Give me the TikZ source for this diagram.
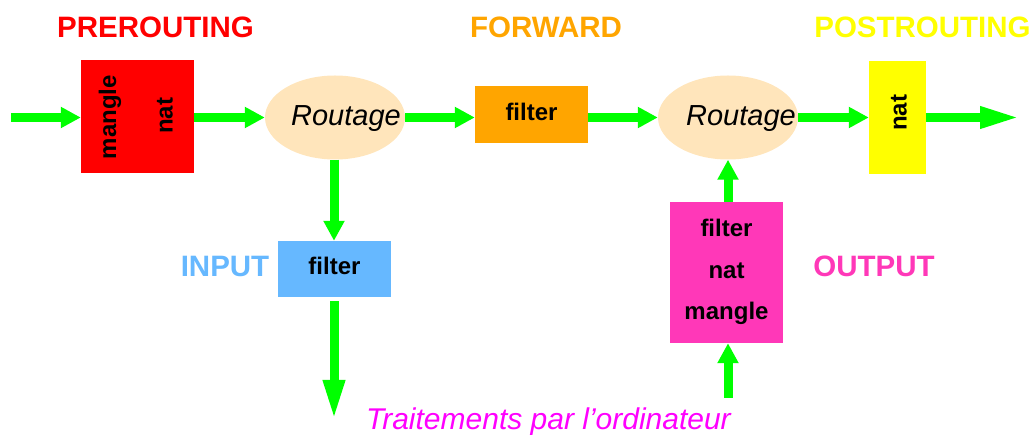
\documentclass[tikz,border=0pt]{standalone}
\usepackage{fontspec}
\setmainfont{Liberation Sans}
\usetikzlibrary{arrows.meta,shapes.geometric}
\definecolor{gr}{RGB}{0,255,0}
\definecolor{moc}{RGB}{255,229,187}
\definecolor{orng}{RGB}{255,165,0}
\definecolor{yel}{RGB}{255,255,0}
\definecolor{lblue}{RGB}{102,184,255}
\definecolor{hpink}{RGB}{255,56,184}
\definecolor{magen}{RGB}{255,0,255}
\tikzset{
  flow/.style={draw=gr, line width=9pt, -{Triangle[length=20pt,width=20pt]}},
  longflow/.style={draw=gr, line width=9pt, -{Triangle[length=40pt,width=20pt]}},
  box/.style={rectangle, inner sep=0pt, draw=none},
  route/.style={ellipse, fill=moc, draw=none, minimum width=140pt, minimum height=84pt, inner sep=0pt},
  boxtxt/.style={inner sep=0pt, font=\fontsize{24}{26}\selectfont\bfseries, text=black},
  title/.style={inner sep=0pt, anchor=base, font=\fontsize{29.5}{31}\selectfont\bfseries},
  rtxt/.style={inner sep=0pt, anchor=base, font=\fontsize{29}{31}\selectfont\itshape, text=black}
}
\begin{document}
\begin{tikzpicture}[x=1pt,y=-1pt]
\useasboundingbox (0,0) rectangle (1034,435);
% titles
\node[title, text=red] (tpre) at (155.5,38) {PREROUTING};
\node[title, text=orng] (tfwd) at (546,38) {FORWARD};
\node[title, text=yel] (tpost) at (922.5,38) {POSTROUTING};
\node[title, text=lblue] (tin) at (225,277) {INPUT};
\node[title, text=hpink] (tout) at (874,277) {OUTPUT};
\node[inner sep=0pt, anchor=base, font=\fontsize{30}{32}\selectfont\itshape, text=magen] (trait) at (548.5,430) {Traitements par l’ordinateur};
% boxes
\node[box, fill=red, minimum width=113pt, minimum height=113pt] (pre) at (137.5,116.5) {};
\node[boxtxt, rotate=90] (pm) at (110,117) {mangle};
\node[boxtxt, rotate=90] (pn) at (165,116) {nat};
\node[route] (r1) at (335,117.5) {};
\node[rtxt] (r1t) at (346,126) {Routage};
\node[box, fill=orng, minimum width=113pt, minimum height=57pt] (fwd) at (531.5,114.5) {};
\node[boxtxt, anchor=base] (fwdt) at (531.5,121) {filter};
\node[route] (r2) at (728,117.5) {};
\node[rtxt] (r2t) at (741,126) {Routage};
\node[box, fill=yel, minimum width=57pt, minimum height=113pt] (post) at (897.5,117.5) {};
\node[boxtxt, rotate=90] (postn) at (899,113) {nat};
\node[box, fill=lblue, minimum width=113pt, minimum height=56pt] (inb) at (334.5,269) {};
\node[boxtxt, anchor=base] (inbt) at (334.5,275) {filter};
\node[box, fill=hpink, minimum width=113pt, minimum height=141pt] (outb) at (726.5,272.5) {};
\node[boxtxt, anchor=base] (o1) at (726.5,237) {filter};
\node[boxtxt, anchor=base] (o2) at (726.5,279) {nat};
\node[boxtxt, anchor=base] (o3) at (726.5,320) {mangle};
% free ends
\coordinate (start) at (11,117.5);
\coordinate (finish) at (1020,117.5);
\coordinate (down) at (334,420);
\coordinate (up) at (728,398);
% connectors
\draw[flow] (start) -- (pre.west |- start);
\draw[flow] (pre.east |- start) -- (r1.west);
\draw[flow] (r1.east) -- (fwd.west |- r1.east);
\draw[flow] (fwd.east |- r1.east) -- (r2.west);
\draw[flow] (r2.east) -- (post.west |- r2.east);
\draw[longflow] (post.east |- r2.east) -- (finish);
\draw[flow] (r1.south -| 334,0) -- (inb.north -| 334,0);
\draw[longflow, shorten <=4pt] (inb.south -| down) -- (down);
\draw[flow] (outb.north -| up) -- (r2.south -| up);
\draw[flow] (up) -- (outb.south -| up);
\end{tikzpicture}
\end{document}
